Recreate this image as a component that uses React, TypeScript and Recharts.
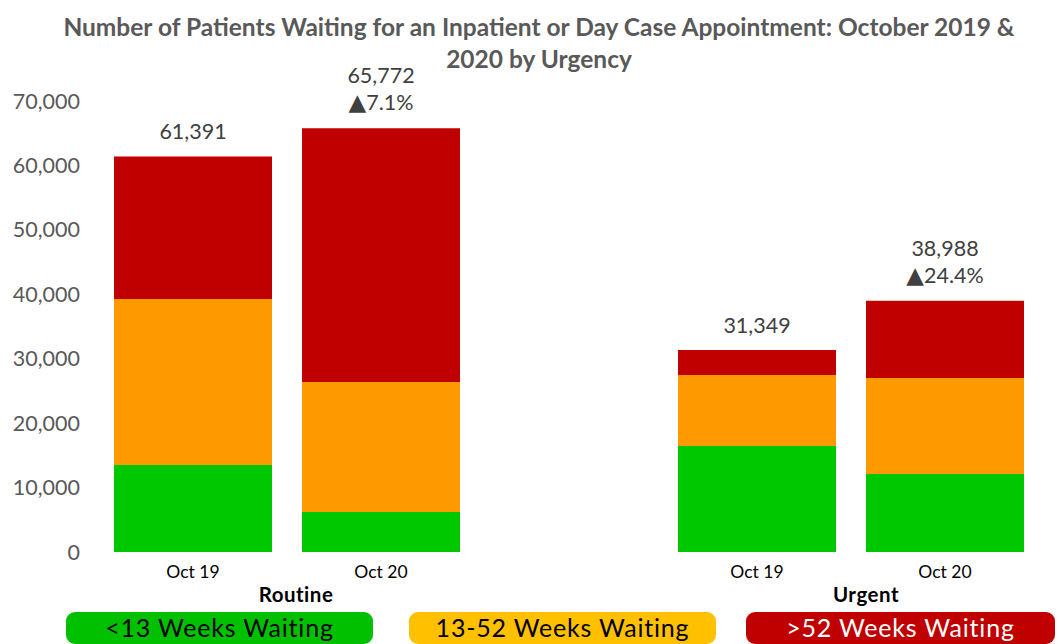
import { BarChart, Bar, XAxis, YAxis, LabelList } from 'recharts';

const title = [
  'Number of Patients Waiting for an Inpatient or Day Case Appointment: October 2019 &',
  '2020 by Urgency',
];
const categories = ['Oct 19', 'Oct 20', '', 'Oct 19', 'Oct 20'];
const under13 = [13500, 6200, null, 16450, 12100];
const weeks13to52 = [25770, 20200, null, 11020, 14900];
const over52 = [22120, 39370, null, 3880, 11990];
const totals = [61391, 65772, null, 31349, 38988];
const changes = ['', '▲7.1%', '', '', '▲24.4%'];
const yTicks = [0, 10000, 20000, 30000, 40000, 50000, 60000, 70000];
const groups = ['Routine', 'Urgent'];
const seriesNames = ['<13 Weeks Waiting', '13-52 Weeks Waiting', '>52 Weeks Waiting'];

const FONT = "Lato, 'Open Sans', sans-serif";
const barColors = ['#00C800', '#FF9900', '#C00000'];
const legendColors = ['#00C000', '#FFC000', '#C00000'];
const legendText = ['#000000', '#000000', '#FFFFFF'];

const data = categories.map((c, i) => ({
  key: `${c}-${i}`,
  under13: under13[i],
  mid: weeks13to52[i],
  over52: over52[i],
  total: totals[i],
}));

// label on top of each stack: total, plus % change where there is one
function TotalLabel(props: any) {
  const { x, y, width, value } = props;
  if (value == null) return null;
  const i = totals.indexOf(value);
  const change = changes[i] ?? '';
  const cx = x + width / 2;
  const hasChange = change !== '';
  const arrow = change.startsWith('▲');
  return (
    <g fontFamily={FONT} fontSize={21.5} fill="#404040" textAnchor="middle">
      <text x={cx} y={hasChange ? y - 53 : y - 25} dominantBaseline="central">
        {value.toLocaleString('en-GB')}
      </text>
      {hasChange && (
        <text x={cx} y={y - 26} dominantBaseline="central">
          {arrow && (
            <tspan fontFamily="'DejaVu Sans', sans-serif" fontSize={23}>
              ▲
            </tspan>
          )}
          <tspan>{arrow ? change.slice(1) : change}</tspan>
        </text>
      )}
    </g>
  );
}

function CatTick(props: any) {
  const { x, y, payload } = props;
  const label = categories[payload.index] ?? '';
  return (
    <text x={x} y={y + 11} textAnchor="middle" dominantBaseline="central" fontFamily={FONT} fontSize={17.5} fill="#000">
      {label}
    </text>
  );
}

export default function App() {
  return (
    <div style={{ position: 'absolute', left: 0, top: 0, width: 1060, height: 644, background: '#fff', fontFamily: FONT, overflow: 'hidden' }}>
      <div
        style={{
          position: 'absolute',
          left: 0,
          top: 11,
          width: 1078,
          textAlign: 'center',
          fontWeight: 700,
          fontSize: 24.5,
          lineHeight: '32px',
          color: '#595959',
        }}
      >
        {title[0]}
        <br />
        {title[1]}
      </div>
      <BarChart
        width={1060}
        height={644}
        data={data}
        margin={{ top: 101, right: 21, bottom: 62, left: 9 }}
        barSize={158}
        style={{ position: 'absolute', left: 0, top: 0 }}
      >
        <XAxis dataKey="key" height={30} axisLine={false} tickLine={false} interval={0} tick={<CatTick />} />
        <YAxis
          width={90}
          domain={[0, 70000]}
          ticks={yTicks}
          axisLine={false}
          tickLine={false}
          tickMargin={13}
          tickFormatter={(v: number) => v.toLocaleString('en-GB')}
          tick={{ fontSize: 21.5, fill: '#595959', fontFamily: FONT }}
        />
        <Bar dataKey="under13" stackId="a" fill={barColors[0]} isAnimationActive={false} />
        <Bar dataKey="mid" stackId="a" fill={barColors[1]} isAnimationActive={false} />
        <Bar dataKey="over52" stackId="a" fill={barColors[2]} isAnimationActive={false}>
          <LabelList dataKey="total" content={<TotalLabel />} />
        </Bar>
      </BarChart>
      {groups.map((g, i) => (
        <div
          key={g}
          style={{
            position: 'absolute',
            left: i === 0 ? 246 : 816,
            top: 582,
            width: 100,
            textAlign: 'center',
            fontWeight: 700,
            fontSize: 20.5,
            letterSpacing: 0.5,
            color: '#000',
          }}
        >
          {g}
        </div>
      ))}
      {seriesNames.map((n, i) => (
        <div
          key={n}
          style={{
            position: 'absolute',
            left: [66, 409, 746][i],
            top: 612,
            width: [307, 307, 309][i],
            height: 32,
            borderRadius: 9,
            background: legendColors[i],
            color: legendText[i],
            fontSize: 25,
            letterSpacing: 0.8,
            lineHeight: '31px',
            textAlign: 'center',
          }}
        >
          {n}
        </div>
      ))}
    </div>
  );
}
